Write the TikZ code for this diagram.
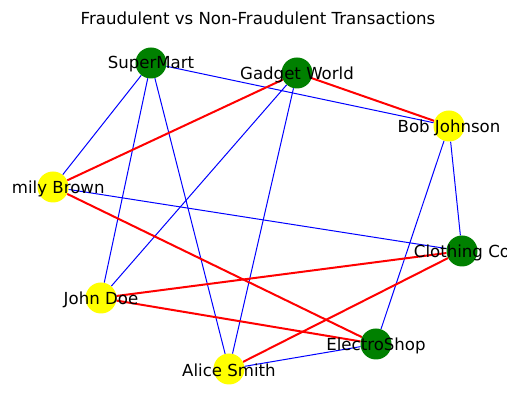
\documentclass[tikz,border=0pt]{standalone}
\usepackage{fontspec}
\setmainfont{DejaVu Sans}
\usetikzlibrary{backgrounds}

\definecolor{mgreen}{HTML}{008000}
\definecolor{myellow}{HTML}{FFFF00}
\tikzset{
  shop/.style={circle, fill=mgreen, minimum size=31pt, inner sep=0pt},
  person/.style={circle, fill=myellow, minimum size=31pt, inner sep=0pt},
  lbl/.style={font=\fontsize{16.6}{19}\selectfont, inner sep=0pt},
  tag/.style={lbl, yshift=-1.5pt},
  legit/.style={blue, line width=1pt},
  fraud/.style={red, line width=2pt}
}

\begin{document}
\begin{tikzpicture}[x=1pt, y=-1pt]
\useasboundingbox (0,0) rectangle (515,411);

\node (title) at (258,18) [lbl] {Fraudulent vs Non-Fraudulent Transactions};

% merchants
\node (sm) at (151,63) [shop] {};
\node (gw) at (297,73) [shop] {};
\node (cc) at (462,251) [shop] {};
\node (es) at (376,344) [shop] {};
% customers
\node (bj) at (449,126) [person] {};
\node (eb) at (53,187) [person] {};
\node (jd) at (101,298) [person] {};
\node (as) at (229,369) [person] {};

\begin{pgfonlayer}{background}
\draw[legit] (sm) -- (bj);
\draw[legit] (sm) -- (eb);
\draw[legit] (sm) -- (jd);
\draw[legit] (sm) -- (as);
\draw[legit] (gw) -- (jd);
\draw[legit] (gw) -- (as);
\draw[legit] (bj) -- (es);
\draw[legit] (bj) -- (cc);
\draw[legit] (eb) -- (cc);
\draw[legit] (as) -- (es);

\draw[fraud] (gw) -- (eb);
\draw[fraud] (gw) -- (bj);
\draw[fraud] (eb) -- (es);
\draw[fraud] (jd) -- (cc);
\draw[fraud] (jd) -- (es);
\draw[fraud] (as) -- (cc);
\end{pgfonlayer}

% labels, clipped to the plot area
\begin{scope}
\clip (11,30) rectangle (506,400);
\node (smL) at (sm) [tag] {SuperMart};
\node (gwL) at (gw) [tag] {Gadget World};
\node (ccL) at (cc) [tag] {Clothing Co};
\node (esL) at (es) [tag] {ElectroShop};
\node (bjL) at (bj) [tag] {Bob Johnson};
\node (ebL) at (eb) [tag] {Emily Brown};
\node (jdL) at (jd) [tag] {John Doe};
\node (asL) at (as) [tag] {Alice Smith};
\end{scope}
\end{tikzpicture}
\end{document}
